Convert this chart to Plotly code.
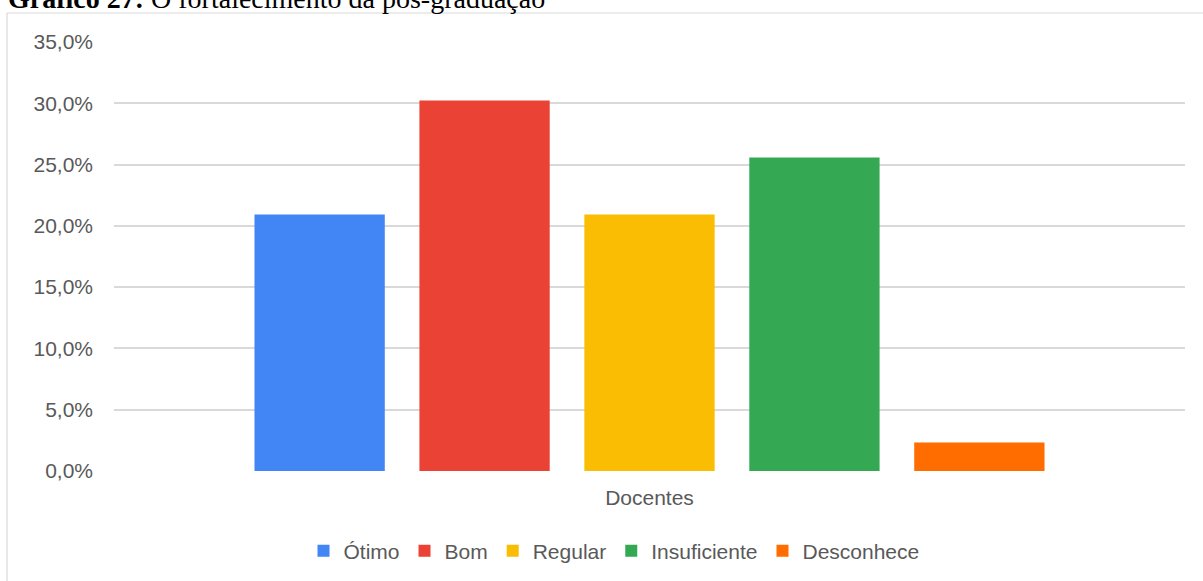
import plotly.graph_objects as go

categories = ["Docentes"]
series_names = ["Ótimo", "Bom", "Regular", "Insuficiente", "Desconhece"]
series_values = [20.93, 30.23, 20.93, 25.58, 2.33]
series_colors = ["#4285F4", "#EA4335", "#FBBC04", "#34A853", "#FF6D01"]
y_ticks = [0, 5, 10, 15, 20, 25, 30, 35]
y_tick_labels = [f"{v:.1f}".replace(".", ",") + "%" for v in y_ticks]

W, H = 1203, 581
L, R, T, B = 114, 18, 42, 110
pw, ph = W - L - R, H - T - B

def px_x(x):
    return (x - L) / pw

def px_y(y):
    return (H - B - y) / ph

fig = go.Figure()
for name, val, col in zip(series_names, series_values, series_colors):
    fig.add_trace(go.Bar(x=categories, y=[val], name=name, marker_color=col,
                         marker_line_width=0))

font_family = "Liberation Sans, Arial, sans-serif"
fig.update_layout(
    width=W, height=H,
    margin=dict(l=L, r=R, t=T, b=B, autoexpand=False),
    paper_bgcolor="white", plot_bgcolor="white",
    separators=",.",
    barmode="group", bargap=0.23, bargroupgap=0.21,
    font=dict(family=font_family, size=21, color="#595959"),
    showlegend=True,
    legend=dict(orientation="h", x=px_x(614), xanchor="center",
                y=px_y(551), yanchor="middle",
                font=dict(size=21, color="#595959"),
                itemwidth=30, tracegroupgap=0, traceorder="normal"),
    yaxis=dict(range=[0, 35], tickvals=y_ticks, ticktext=y_tick_labels,
               showgrid=True, gridcolor="#d9d9d9", gridwidth=1.5,
               zeroline=False, showline=False, ticks="",
               ticklabelstandoff=20, fixedrange=True),
    xaxis=dict(showgrid=False, zeroline=False, showline=False, ticks="",
               ticklabelstandoff=12, fixedrange=True),
    shapes=[dict(type="rect", xref="paper", yref="paper",
                 x0=px_x(7), x1=px_x(1215), y0=px_y(13), y1=px_y(595),
                 line=dict(color="#d9d9d9", width=1.2), fillcolor="rgba(0,0,0,0)",
                 layer="below")],
    annotations=[dict(xref="paper", yref="paper", x=px_x(6), y=px_y(-1),
                      xanchor="left", yanchor="middle", showarrow=False,
                      text="<b>Gráfico 27:</b> O fortalecimento da pós-graduação",
                      font=dict(family="Liberation Serif, Times New Roman, serif",
                                size=28, color="#000000"))],
)

fig.write_html("out.html", config={"displayModeBar": False},
               post_script="document.body.style.margin='0';")
